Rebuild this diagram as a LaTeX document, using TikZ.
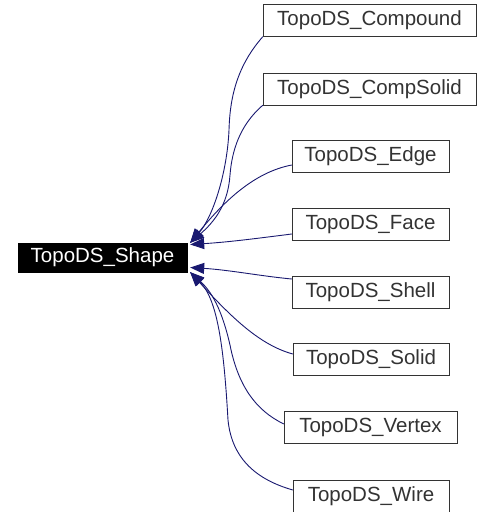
\documentclass[tikz,border=0pt]{standalone}
\usepackage{fontspec}
\setmainfont{Liberation Sans}
\usepackage{tikz}
\usetikzlibrary{arrows.meta}
\definecolor{edgeblue}{HTML}{191970}

\begin{document}
\begin{tikzpicture}[x=1pt, y=-1pt,
  every node/.style={font=\fontsize{20.5}{24}\selectfont},
  basebox/.style={draw=black, fill=black, text=white, minimum width=169pt, minimum height=29pt, inner sep=0pt},
  childbox/.style={draw=black!80, fill=white, text=black!80, minimum height=32pt, inner sep=0pt},
  inherit/.style={draw=edgeblue, line width=0.9pt, -{Triangle[length=14pt,width=11pt,fill=edgeblue]}}]
\useasboundingbox (0,0) rectangle (481,512);
% Base class
\node[basebox] (shape) at (102.5,257.5) {TopoDS\_Shape};
% Derived classes
\node[childbox, minimum width=213pt] (compound)  at (369.5,20.5) {TopoDS\_Compound};
\node[childbox, minimum width=213pt] (compsolid) at (369.5,89)   {TopoDS\_CompSolid};
\node[childbox, minimum width=157pt] (edge)      at (370.5,156)  {TopoDS\_Edge};
\node[childbox, minimum width=157pt] (face)      at (370.5,224)  {TopoDS\_Face};
\node[childbox, minimum width=157pt] (shell)     at (370.5,292)  {TopoDS\_Shell};
\node[childbox, minimum width=156pt] (solid)     at (371,359)    {TopoDS\_Solid};
\node[childbox, minimum width=173pt] (vertex)    at (370.5,427.5) {TopoDS\_Vertex};
\node[childbox, minimum width=156pt] (wire)      at (371,496)    {TopoDS\_Wire};
% Inheritance arrows
\draw[inherit] (compound.south west) .. controls (238,65) and (230,95) .. (229,130)
  .. controls (227,175) and (212,218) .. ([xshift=3pt]shape.north east);
\draw[inherit] (compsolid.south west) .. controls (240,125) and (232,150) .. (230,175)
  .. controls (228,205) and (214,222) .. ([xshift=3pt]shape.north east);
\draw[inherit] ([yshift=-9pt]edge.west) .. controls (255,172) and (225,200) .. ([xshift=3pt]shape.north east);
\draw[inherit] ([yshift=-10pt]face.west) .. controls (260,238) and (230,242) .. ([xshift=3pt,yshift=13pt]shape.east);
\draw[inherit] ([yshift=13pt]shell.west) .. controls (260,276) and (230,270) .. ([xshift=3pt,yshift=-10pt]shape.east);
\draw[inherit] ([yshift=5pt]solid.west) .. controls (260,345) and (232,318) .. ([xshift=3pt]shape.south east);
\draw[inherit] ([yshift=3.5pt]vertex.west) .. controls (255,410) and (238,385) .. (230,345)
  .. controls (222,310) and (212,292) .. ([xshift=3pt]shape.south east);
\draw[inherit] ([yshift=6pt]wire.west) .. controls (258,480) and (232,460) .. (228,420)
  .. controls (224,350) and (218,300) .. ([xshift=3pt]shape.south east);
\end{tikzpicture}
\end{document}
